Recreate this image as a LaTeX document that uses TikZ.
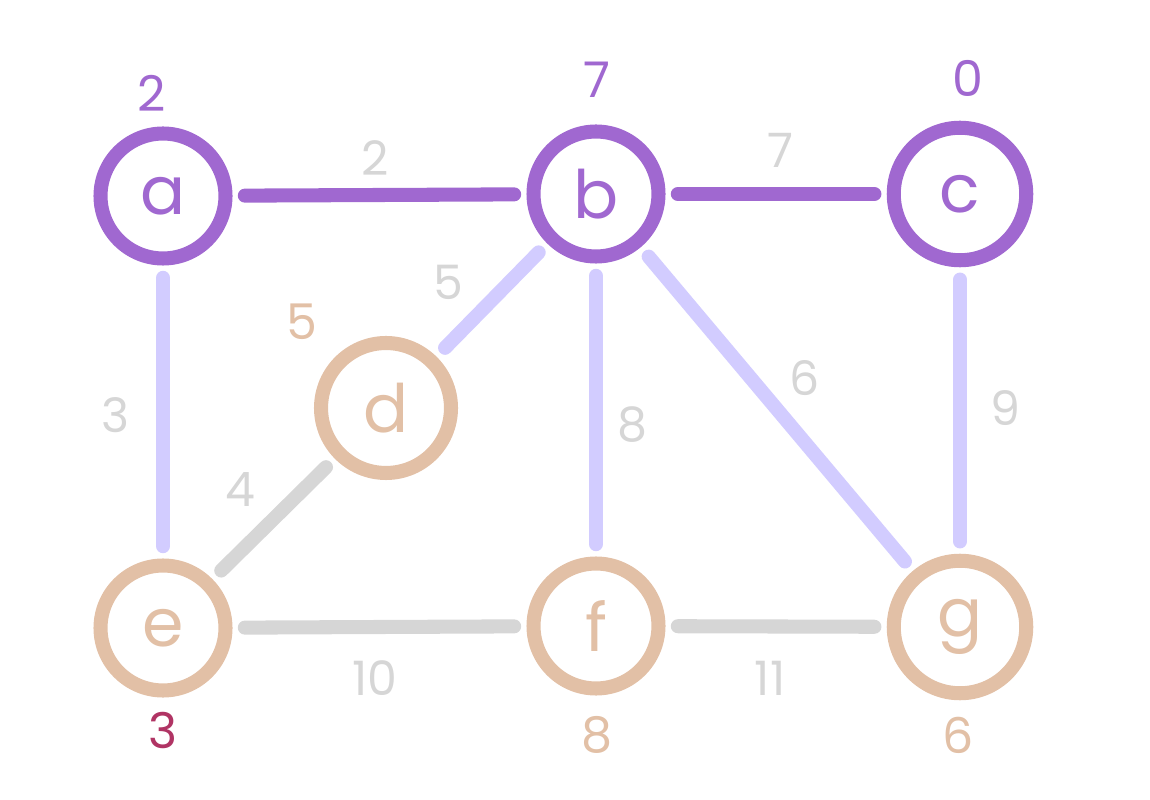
\documentclass[tikz,border=0pt]{standalone}
\usepackage{fontspec}
\setmainfont{Poppins}
\usetikzlibrary{positioning}
\definecolor{mstpurple}{RGB}{160,104,208}
\definecolor{candlav}{RGB}{210,204,255}
\definecolor{outtan}{RGB}{226,192,166}
\definecolor{restgray}{RGB}{214,214,214}
\definecolor{rootred}{RGB}{176,52,100}
\tikzset{
  vertex/.style={circle, line width=8pt, minimum size=2.5cm, inner sep=0pt,
    outer sep=11pt, font=\fontsize{38}{40}\selectfont},
  intree/.style={vertex, draw=mstpurple, text=mstpurple},
  outtree/.style={vertex, draw=outtan, text=outtan},
  link/.style={line width=8pt, line cap=round},
  treelink/.style={link, draw=mstpurple},
  candlink/.style={link, draw=candlav},
  restlink/.style={link, draw=restgray},
  weight/.style={text=restgray, font=\fontsize{27}{30}\selectfont},
  key/.style={font=\fontsize{28}{30}\selectfont}
}
\begin{document}
\begin{tikzpicture}[x=0.02cm,y=-0.02cm]
\useasboundingbox (0,0) rectangle (1150,800);
% vertices
\node[intree] (a) at (163,196) {a};
\node[intree] (b) at (596,194) {b};
\node[intree, minimum size=2.65cm] (c) at (960,194) {c};
\node[outtree, minimum size=2.6cm] (d) at (386,408) {d};
\node[outtree] (e) at (163,628) {e};
\node[outtree] (f) at (596,626) {f};
\node[outtree, minimum size=2.65cm] (g) at (960,627) {g};
% edges
\draw[treelink] (a) -- (b);
\draw[treelink] (b) -- (c);
\draw[candlink] (a) -- (e);
\draw[candlink] (b) -- (d);
\draw[candlink] (b) -- (f);
\draw[candlink] (b) -- (g);
\draw[candlink] (c) -- (g);
\draw[restlink] (d) -- (e);
\draw[restlink] (e) -- (f);
\draw[restlink] (f) -- (g);
% weights
\node[weight] (wab) at (375,158) {2};
\node[weight] (wbc) at (780,150) {7};
\node[weight] (wae) at (115,415) {3};
\node[weight] (wbd) at (448,282) {5};
\node[weight] (wbf) at (632,425) {8};
\node[weight] (wbg) at (805,378) {6};
\node[weight] (wcg) at (1005,408) {9};
\node[weight] (wde) at (240,490) {4};
\node[weight] (wef) at (375,678) {10};
\node[weight] (wfg) at (770,678) {11};
% keys
\node[key, text=mstpurple] (ka) at (152,93) {2};
\node[key, text=mstpurple] (kb) at (597,80) {7};
\node[key, text=mstpurple] (kc) at (968,78) {0};
\node[key, text=outtan] (kd) at (302,322) {5};
\node[key, text=rootred] (ke) at (163,730) {3};
\node[key, text=outtan] (kf) at (597,735) {8};
\node[key, text=outtan] (kg) at (958,735) {6};
\end{tikzpicture}
\end{document}
